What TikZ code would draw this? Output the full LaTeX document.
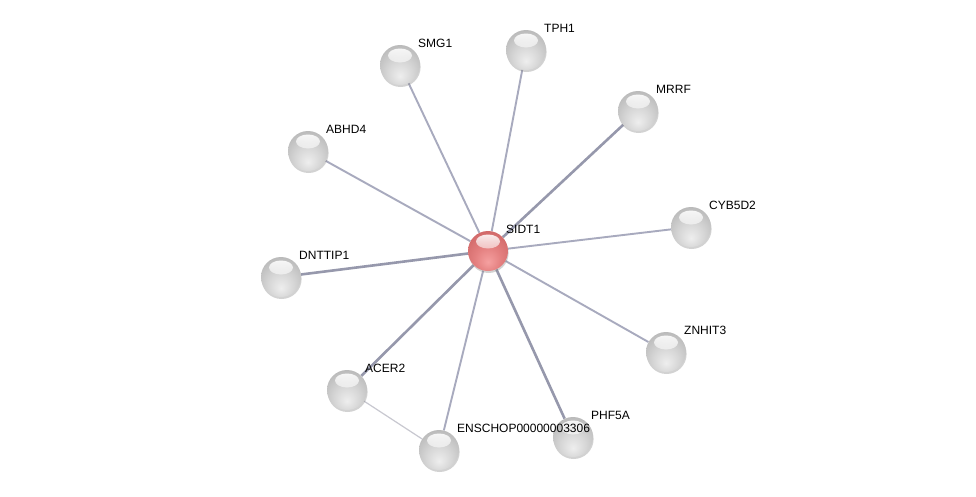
\documentclass[tikz,border=0pt]{standalone}
\usepackage{fontspec}
\setmainfont{Liberation Sans}
\usetikzlibrary{shadows,backgrounds,fadings}
\definecolor{gA}{RGB}{238,238,238}
\definecolor{gB}{RGB}{214,214,214}
\definecolor{gC}{RGB}{180,180,180}
\definecolor{gD}{RGB}{148,148,148}
\definecolor{gE}{RGB}{130,130,130}
\definecolor{rA}{RGB}{245,160,160}
\definecolor{rB}{RGB}{228,128,128}
\definecolor{rC}{RGB}{205,100,100}
\definecolor{rD}{RGB}{180,72,72}
\definecolor{rE}{RGB}{160,58,58}
\pgfdeclareradialshading{graysphere}{\pgfpoint{0bp}{-14bp}}{%
  color(0bp)=(gA);
  color(16bp)=(gB);
  color(36bp)=(gC);
  color(54bp)=(gD);
  color(66bp)=(gE)}
\pgfdeclareradialshading{redsphere}{\pgfpoint{0bp}{-14bp}}{%
  color(0bp)=(rA);
  color(16bp)=(rB);
  color(36bp)=(rC);
  color(54bp)=(rD);
  color(66bp)=(rE)}
\tikzfading[name=hlfade, top color=transparent!5, bottom color=transparent!100]
\definecolor{edgecol}{RGB}{168,170,190}
\definecolor{edgedark}{RGB}{150,152,172}
\definecolor{edgelight}{RGB}{200,200,208}
\tikzset{
  ballnode/.style={circle, minimum size=40pt, inner sep=0pt, shading=graysphere,
    drop shadow={opacity=0.35, shadow xshift=0.6pt, shadow yshift=-2pt},
    path picture={\fill[white, path fading=hlfade]
      ([yshift=-10.5pt]path picture bounding box.north) ellipse (12pt and 7pt);}},
  redball/.style={ballnode, shading=redsphere},
  lbl/.style={anchor=west, inner sep=0pt, font=\fontsize{12}{14}\selectfont},
  edge/.style={draw=edgecol, line width=1.9pt},
  edgeb/.style={draw=edgedark, line width=2.6pt},
  edgel/.style={draw=edgelight, line width=1.2pt}
}
\begin{document}
\begin{tikzpicture}[x=1pt,y=-1pt]
\useasboundingbox (0,0) rectangle (976,496);
\node[redball] (sidt1) at (488,251) {};
\node[ballnode] (smg1) at (400,65) {};
\node[ballnode] (tph1) at (526,50) {};
\node[ballnode] (mrrf) at (638,111) {};
\node[ballnode] (abhd4) at (308,151) {};
\node[ballnode] (cyb5d2) at (691,227) {};
\node[ballnode] (dnttip1) at (281,277) {};
\node[ballnode] (znhit3) at (666,352) {};
\node[ballnode] (acer2) at (347,390) {};
\node[ballnode] (ensc) at (439,450) {};
\node[ballnode] (phf5a) at (573,437) {};
\begin{pgfonlayer}{background}
\fill[white] (0,0) rectangle (976,496);
\draw[edge] (sidt1) -- (smg1);
\draw[edge] (sidt1) -- (tph1);
\draw[edgeb] (sidt1) -- (mrrf);
\draw[edge] (sidt1) -- (abhd4);
\draw[edge] (sidt1) -- (cyb5d2);
\draw[edgeb] (sidt1) -- (dnttip1);
\draw[edge] (sidt1) -- (znhit3);
\draw[edgeb] (sidt1) -- (acer2);
\draw[edge] (sidt1) -- (ensc);
\draw[edgeb] (sidt1) -- (phf5a);
\draw[edgel] (acer2) -- (ensc);
\end{pgfonlayer}
\node[lbl] (lsidt1) at (506,229) {SIDT1};
\node[lbl] (lsmg1) at (418,43) {SMG1};
\node[lbl] (ltph1) at (544,28) {TPH1};
\node[lbl] (lmrrf) at (656,89) {MRRF};
\node[lbl] (labhd4) at (326,129) {ABHD4};
\node[lbl] (lcyb5d2) at (709,205) {CYB5D2};
\node[lbl] (ldnttip1) at (299,255) {DNTTIP1};
\node[lbl] (lznhit3) at (684,330) {ZNHIT3};
\node[lbl] (lacer2) at (365,368) {ACER2};
\node[lbl] (lensc) at (457,428) {ENSCHOP00000003306};
\node[lbl] (lphf5a) at (591,415) {PHF5A};
\end{tikzpicture}
\end{document}
